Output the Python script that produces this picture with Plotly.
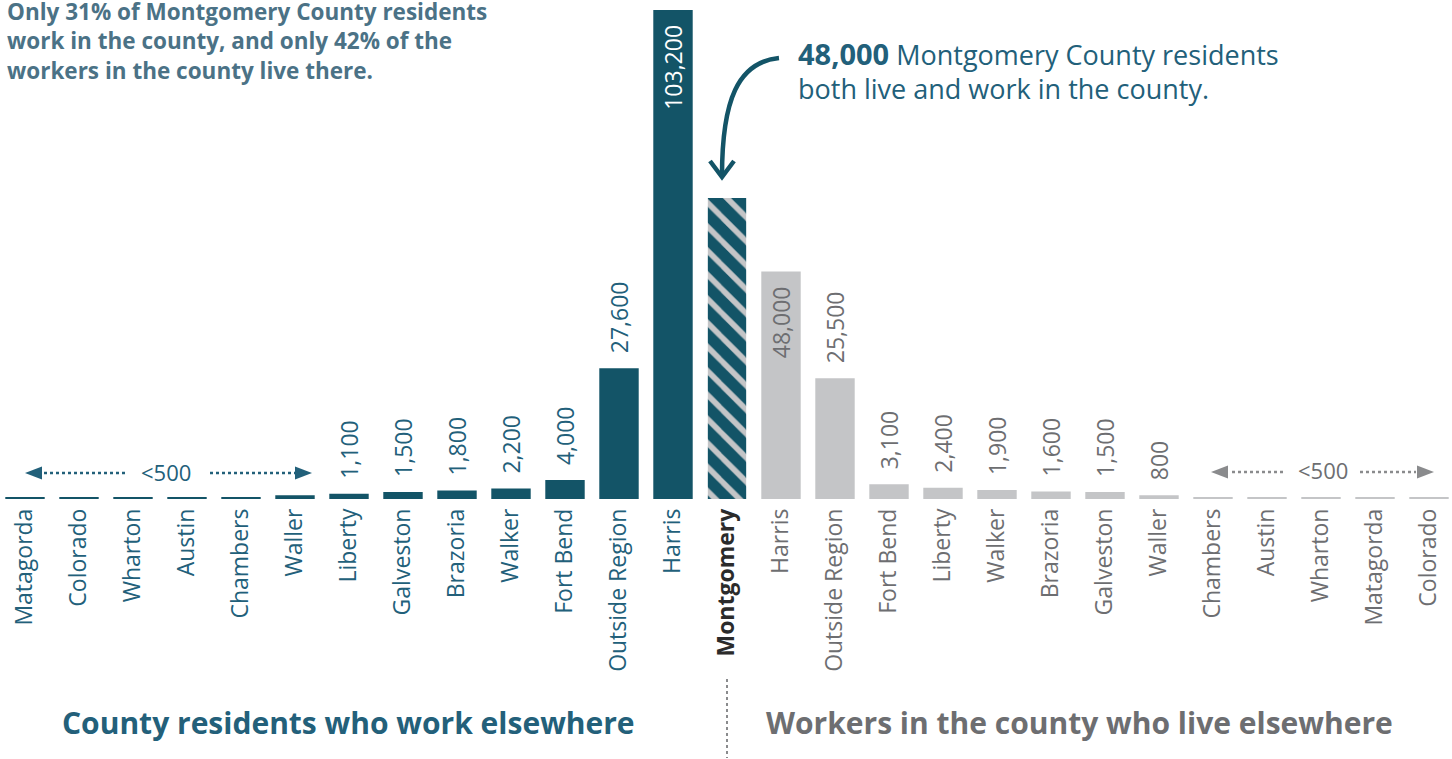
import plotly.graph_objects as go

# ---------------- data ----------------
left_counties = ["Matagorda", "Colorado", "Wharton", "Austin", "Chambers", "Waller",
                 "Liberty", "Galveston", "Brazoria", "Walker", "Fort Bend", "Outside Region", "Harris"]
left_values = [400, 400, 400, 400, 400, 800, 1100, 1500, 1800, 2200, 4000, 27600, 103200]
left_labels = ["", "", "", "", "", "", "1,100", "1,500", "1,800", "2,200", "4,000", "27,600", "103,200"]

home_county = "Montgomery"
home_value = 48000          # residents who live & work in county
home_bar_height = 63500     # drawn height of the highlighted bar

right_counties = ["Harris", "Outside Region", "Fort Bend", "Liberty", "Walker", "Brazoria",
                  "Galveston", "Waller", "Chambers", "Austin", "Wharton", "Matagorda", "Colorado"]
right_values = [48000, 25500, 3100, 2400, 1900, 1600, 1500, 800, 400, 400, 400, 400, 400]
right_labels = ["48,000", "25,500", "3,100", "2,400", "1,900", "1,600", "1,500", "800", "", "", "", "", ""]

title_lines = ["Only 31% of Montgomery County residents",
               "work in the county, and only 42% of the",
               "workers in the county live there."]
callout_bold = "48,000"
callout_lines = [" Montgomery County residents", "both live and work in the county."]
left_group_title = "County residents who work elsewhere"
right_group_title = "Workers in the county who live elsewhere"
small_label = "<500"

# ---------------- styles ----------------
TEAL = "#135467"
TEAL_TXT = "#22607a"
SLATE = "#4b7286"
GRAY = "#c4c5c7"
GRAY_TXT = "#6d6e71"
FONT = "Open Sans"
W, H = 1452, 759
T_M, B_M = 0, 260
PLOT_H = H - T_M - B_M
NB = "\u00a0"

def px(x):
    return x / W

def py(y):
    return (T_M + PLOT_H - y) / PLOT_H

n_left = len(left_counties)
x_left = list(range(n_left))
x_home = n_left
x_right = [n_left + 1 + i for i in range(len(right_counties))]

def fmt(lbl, inside):
    if not lbl:
        return ""
    return lbl + NB * 2 if inside else NB * 2 + lbl

fig = go.Figure()

left_in = [v > 50000 for v in left_values]
fig.add_trace(go.Bar(
    x=x_left, y=left_values,
    text=[fmt(l, i) for l, i in zip(left_labels, left_in)],
    textposition=["inside" if i else "outside" for i in left_in],
    textangle=-90, insidetextanchor="end", constraintext="none",
    textfont=dict(family=FONT, size=23, color=["white" if i else TEAL_TXT for i in left_in]),
    marker=dict(color=TEAL, line=dict(width=0)), width=0.73,
    cliponaxis=False, hoverinfo="skip"))

fig.add_trace(go.Bar(
    x=[x_home], y=[home_bar_height], width=0.71,
    marker=dict(color=TEAL, line=dict(width=0),
                pattern=dict(shape="\\", fgcolor=GRAY, bgcolor=TEAL, size=17, solidity=0.33,
                             fillmode="replace")),
    hoverinfo="skip"))

right_in = [v > 40000 for v in right_values]
fig.add_trace(go.Bar(
    x=x_right, y=right_values,
    text=[fmt(l, i) for l, i in zip(right_labels, right_in)],
    textposition=["inside" if i else "outside" for i in right_in],
    textangle=-90, insidetextanchor="end", constraintext="none",
    textfont=dict(family=FONT, size=23, color=GRAY_TXT),
    marker=dict(color=GRAY, line=dict(width=0)), width=0.73,
    cliponaxis=False, hoverinfo="skip"))

tickvals = x_left + [x_home] + x_right
ticktext = ([f'<span style="color:{TEAL_TXT}">{c}</span>' for c in left_counties]
            + [f'<span style="color:#2b2b2b"><b>{home_county}</b></span>']
            + [f'<span style="color:{GRAY_TXT}">{c}</span>' for c in right_counties])

scale = 54.0
r0 = -25 / scale
r1 = r0 + W / scale
ymax = left_values[-1] * PLOT_H / 489

fig.update_layout(
    width=W, height=H, margin=dict(l=0, r=0, t=T_M, b=B_M, autoexpand=False),
    paper_bgcolor="white", plot_bgcolor="white", showlegend=False,
    barmode="overlay",
    font=dict(family=FONT),
    xaxis=dict(range=[r0, r1], tickmode="array", tickvals=tickvals, ticktext=ticktext,
               tickangle=-90, tickfont=dict(family=FONT, size=23), showgrid=False,
               zeroline=False, showline=False, ticks="", ticklabelstandoff=4, automargin=False),
    yaxis=dict(range=[0, ymax], visible=False, showgrid=False, zeroline=False),
)

ann = []
ann.append(dict(xref="paper", yref="paper", x=px(5), y=py(41), xanchor="left", yanchor="middle",
                text="<b>" + "<br>".join(title_lines) + "</b>", showarrow=False, align="left",
                font=dict(family=FONT, size=22.5, color=SLATE)))
ann.append(dict(xref="paper", yref="paper", x=px(796), y=py(53), xanchor="left", yanchor="middle",
                text=f'<b><span style="font-size:29px">{callout_bold}</span></b>{callout_lines[0]}',
                showarrow=False, font=dict(family=FONT, size=27, color=TEAL_TXT)))
ann.append(dict(xref="paper", yref="paper", x=px(796), y=py(89), xanchor="left", yanchor="middle",
                text=callout_lines[1], showarrow=False,
                font=dict(family=FONT, size=27, color=TEAL_TXT)))
ann.append(dict(xref="paper", yref="paper", x=px(348), y=py(722), xanchor="center", yanchor="middle",
                text=f"<b>{left_group_title}</b>", showarrow=False,
                font=dict(family=FONT, size=30, color="#23607a")))
ann.append(dict(xref="paper", yref="paper", x=px(1079), y=py(722), xanchor="center", yanchor="middle",
                text=f"<b>{right_group_title}</b>", showarrow=False,
                font=dict(family=FONT, size=30, color=GRAY_TXT)))
ann.append(dict(xref="paper", yref="paper", x=px(166), y=py(472), xanchor="center", yanchor="middle",
                text=small_label, showarrow=False, font=dict(family=FONT, size=22, color=TEAL_TXT)))
ann.append(dict(xref="paper", yref="paper", x=px(1323), y=py(470), xanchor="center", yanchor="middle",
                text=small_label, showarrow=False, font=dict(family=FONT, size=22, color=GRAY_TXT)))
fig.update_layout(annotations=ann)

shapes = []

def dotted(x0, x1, y, color):
    shapes.append(dict(type="line", xref="paper", yref="paper", x0=px(x0), x1=px(x1),
                       y0=py(y), y1=py(y), line=dict(color=color, width=2.5, dash="dot")))

def tri(tip_x, y, direction, color):
    back = tip_x + 17 * direction
    path = (f"M{px(tip_x)},{py(y)} L{px(back)},{py(y - 6.5)} "
            f"L{px(back)},{py(y + 6.5)} Z")
    shapes.append(dict(type="path", xref="paper", yref="paper", path=path,
                       fillcolor=color, line=dict(width=0)))

# left <500 range
tri(25, 473, 1, TEAL_TXT); dotted(44, 127, 473, TEAL_TXT)
dotted(210, 296, 473, TEAL_TXT); tri(312, 473, -1, TEAL_TXT)
# right <500 range
tri(1211, 472, 1, "#8a8b8d"); dotted(1232, 1284, 472, "#8a8b8d")
dotted(1360, 1416, 472, "#8a8b8d"); tri(1434, 472, -1, "#8a8b8d")

# curved callout arrow
shapes.append(dict(type="path", xref="paper", yref="paper",
                   path=(f"M{px(779)},{py(58)} C{px(738)},{py(62)} {px(722)},{py(100)} "
                         f"{px(722)},{py(176)}"),
                   line=dict(color=TEAL, width=4.5)))
shapes.append(dict(type="path", xref="paper", yref="paper",
                   path=f"M{px(710)},{py(161)} L{px(722)},{py(177)} L{px(734)},{py(161)}",
                   line=dict(color=TEAL, width=4.5)))

# divider under Montgomery
shapes.append(dict(type="line", xref="paper", yref="paper", x0=px(727), x1=px(727),
                   y0=py(679), y1=py(758), line=dict(color="#8a8b8d", width=2, dash="dot")))
fig.update_layout(shapes=shapes)

fig.write_html("out.html", config={"displayModeBar": False},
               post_script="document.body.style.margin='0';")
